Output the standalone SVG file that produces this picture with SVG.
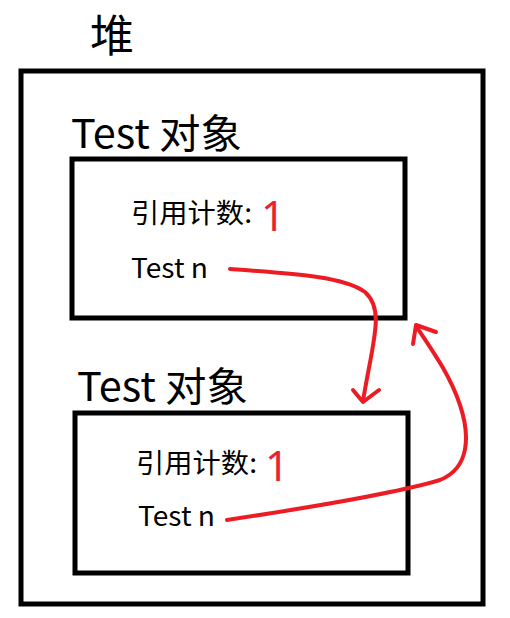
<svg xmlns="http://www.w3.org/2000/svg" width="510" height="618" viewBox="0 0 510 618">
<style>
.box{fill:none;stroke:#000;stroke-width:5}
.t{font-family:"Noto Sans CJK SC","Noto Sans",sans-serif;fill:#000}
.big{font-size:40px}
.mid{font-size:27px}
.one{font-family:"Noto Sans","Noto Sans CJK SC",sans-serif;font-size:42px;fill:#e8232e}
.red{fill:none;stroke:#ec1c24;stroke-width:4;stroke-linecap:round;stroke-linejoin:round}
</style>
<rect width="510" height="618" fill="#fff"/>
<g id="heap">
<rect class="box" x="21" y="71" width="462" height="533"/>
<text class="t" x="90" y="52" font-size="44">堆</text>
</g>
<g id="obj1">
<text class="t big" x="71" y="148" textLength="171" lengthAdjust="spacingAndGlyphs">Test 对象</text>
<rect class="box" x="72" y="159" width="333" height="159"/>
<text class="t mid" x="131" y="223" textLength="121" lengthAdjust="spacingAndGlyphs">引用计数:</text>
<text class="one" x="261" y="231">1</text>
<text class="t mid" x="131" y="278" textLength="77" lengthAdjust="spacingAndGlyphs">Test n</text>
</g>
<g id="obj2">
<text class="t big" x="77" y="401" textLength="171" lengthAdjust="spacingAndGlyphs">Test 对象</text>
<rect class="box" x="75" y="413" width="333" height="160"/>
<text class="t mid" x="136" y="473" textLength="121" lengthAdjust="spacingAndGlyphs">引用计数:</text>
<text class="one" x="265" y="481">1</text>
<text class="t mid" x="138" y="526" textLength="77" lengthAdjust="spacingAndGlyphs">Test n</text>
</g>
<g id="connectors">
<path class="red" d="M230,269 C300,274 345,277 365,292 C385,310 373,340 363,401"/>
<path class="red" d="M353,390 L363,402 L379,390"/>
<path class="red" d="M227,520 C320,506 400,492 440,480 C470,468 470,435 460,405 C450,375 432,350 416,326"/>
<path class="red" d="M413,344 L416,325 L436,332"/>
</g>
</svg>
